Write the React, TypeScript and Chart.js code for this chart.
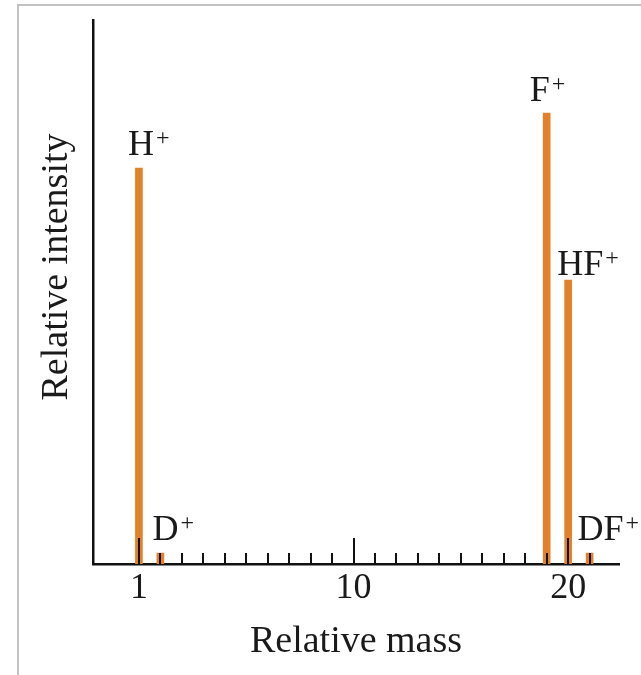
import React, { useEffect, useRef } from "react";
import { Chart, registerables } from "chart.js";

Chart.register(...registerables);

// ---- data ----
const peakNames = ["H", "D", "F", "HF", "DF"];
const peakPositions = [0, 1, 19, 20, 21];
const intensities = [72.8, 2.0, 82.9, 52.2, 2.0];
const minorTickPositions = [0, 1, 2, 3, 4, 5, 6, 7, 8, 9, 10, 11, 12, 13, 14, 15, 16, 17, 18, 19, 20, 21];
const majorTickPositions = [0, 10, 20];
const majorTickLabels = ["1", "10", "20"];
const xTitle = "Relative mass";
const yTitle = "Relative intensity";

// ---- styles ----
const FONT = '"Liberation Serif", "DejaVu Serif", serif';
const TEXT = "#1a1a1a";
const BAR = "#e3812b";
const labelOffsets = [
  [-11, -13],
  [-8, -13],
  [-17, -12],
  [-11, -5],
  [-12, -13],
];

const annotationPlugin = {
  id: "annotations",
  afterDatasetsDraw(chart: any) {
    const ctx = chart.ctx;
    const xs = chart.scales.x;
    const bottom = chart.chartArea.bottom;
    ctx.save();
    // inward tick marks
    ctx.strokeStyle = "#111";
    ctx.lineWidth = 2;
    minorTickPositions.forEach((v) => {
      const px = Math.round(xs.getPixelForValue(v));
      const len = majorTickPositions.includes(v) ? 26 : 11;
      ctx.beginPath();
      ctx.moveTo(px, bottom);
      ctx.lineTo(px, bottom - len);
      ctx.stroke();
    });
    // peak labels
    const meta = chart.getDatasetMeta(0);
    ctx.fillStyle = TEXT;
    ctx.textAlign = "left";
    ctx.textBaseline = "alphabetic";
    meta.data.forEach((el: any, i: number) => {
      const [dx, dy] = labelOffsets[i];
      const x = el.x + dx;
      const y = el.y + dy;
      ctx.font = `36px ${FONT}`;
      ctx.fillText(peakNames[i], x, y);
      const w = ctx.measureText(peakNames[i]).width;
      ctx.font = `24px ${FONT}`;
      ctx.fillText("+", x + w + 2, y - 10);
    });
    // y title
    ctx.save();
    ctx.translate(67, 267);
    ctx.rotate(-Math.PI / 2);
    ctx.font = `38px ${FONT}`;
    ctx.textAlign = "center";
    ctx.fillText(yTitle, 0, 0);
    ctx.restore();
    ctx.restore();
  },
};

export default function App() {
  const ref = useRef<HTMLCanvasElement>(null);
  useEffect(() => {
    if (!ref.current) return;
    const chart = new Chart(ref.current, {
      type: "bar",
      data: {
        datasets: [
          {
            data: peakPositions.map((p, i) => ({ x: p, y: intensities[i] })),
            backgroundColor: BAR,
            borderWidth: 0,
            barThickness: 7,
          },
        ],
      },
      options: {
        animation: false,
        responsive: false,
        events: [],
        layout: { padding: { left: 93, right: 22, top: 20, bottom: 0 } },
        plugins: { legend: { display: false }, tooltip: { enabled: false } },
        scales: {
          x: {
            type: "linear",
            offset: false,
            min: -2.14,
            max: 22.37,
            z: 1,
            grid: { display: false, drawTicks: false, offset: false },
            border: { display: true, color: "#111", width: 2.5 },
            afterBuildTicks: (scale: any) => {
              scale.ticks = majorTickPositions.map((v) => ({ value: v }));
            },
            afterFit: (scale: any) => {
              scale.height = 111;
            },
            ticks: {
              padding: 3,
              color: TEXT,
              font: { family: FONT, size: 36 },
              maxRotation: 0,
              autoSkip: false,
              callback: (v: any) => {
                const idx = majorTickPositions.indexOf(Number(v));
                return idx >= 0 ? majorTickLabels[idx] : "";
              },
            },
            title: {
              display: true,
              text: xTitle,
              color: TEXT,
              font: { family: FONT, size: 38 },
              padding: { top: 0, bottom: 10 },
            },
          },
          y: {
            min: 0,
            max: 100,
            z: 1,
            grid: { display: false, drawTicks: false },
            border: { display: true, color: "#111", width: 2.5 },
            ticks: { display: false },
            afterFit: (scale: any) => {
              scale.width = 0;
            },
          },
        },
      },
      plugins: [annotationPlugin],
    });
    return () => chart.destroy();
  }, []);

  return (
    <div style={{ position: "absolute", left: 0, top: 0, width: 641, height: 675, background: "#fff", overflow: "hidden" }}>
      <div
        style={{
          position: "absolute",
          left: 17,
          top: 4,
          width: 700,
          height: 700,
          borderTop: "2px solid #c2c2c2",
          borderLeft: "2px solid #c2c2c2",
        }}
      />
      <canvas ref={ref} width={641} height={675} style={{ position: "absolute", left: 0, top: 0 }} />
    </div>
  );
}
